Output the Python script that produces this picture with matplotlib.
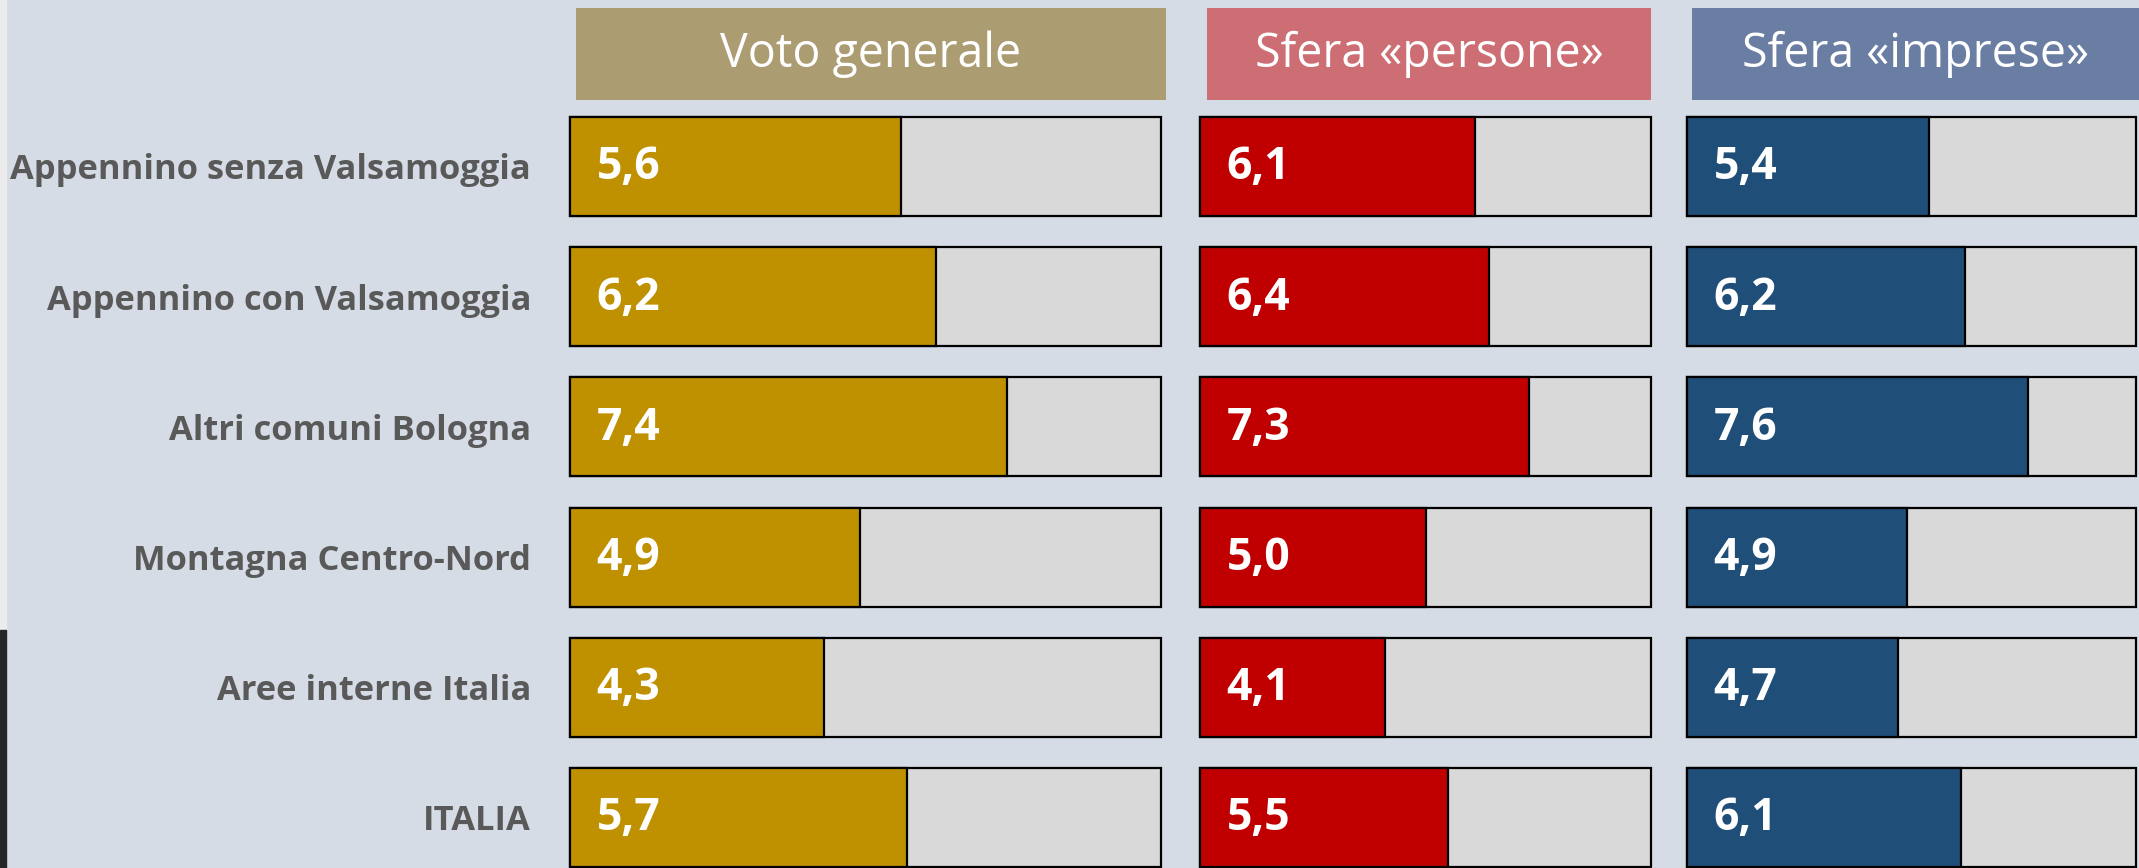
import matplotlib.pyplot as plt
from matplotlib.patches import Rectangle

plt.rcParams["font.family"] = ["Open Sans", "DejaVu Sans"]

# dati
aree = ["Appennino senza Valsamoggia", "Appennino con Valsamoggia", "Altri comuni Bologna",
        "Montagna Centro-Nord", "Aree interne Italia", "ITALIA"]
voto_generale = [5.6, 6.2, 7.4, 4.9, 4.3, 5.7]
sfera_persone = [6.1, 6.4, 7.3, 5.0, 4.1, 5.5]
sfera_imprese = [5.4, 6.2, 7.6, 4.9, 4.7, 6.1]
titoli = ["Voto generale", "Sfera «persone»", "Sfera «imprese»"]
scala_max = 10

colori_barre = ["#BF9000", "#C00000", "#1F4E79"]
colori_titoli = ["#AB9C72", "#CC6E73", "#6A7DA2"]
sfondo = "#D6DCE5"
grigio = "#D9D9D9"

W, H = 2139, 868
fig = plt.figure(figsize=(W / 100, H / 100), dpi=100, facecolor=sfondo)


def box(x0, y0, x1, y1):
    # pixel -> frazione della figura
    return [x0 / W, 1 - y1 / H, (x1 - x0) / W, (y1 - y0) / H]


# striscia sul bordo sinistro (bordo della slide)
fig.patches.append(Rectangle((0, 1 - 630 / H), 6 / W, 630 / H, transform=fig.transFigure,
                             color="#ECECEC", zorder=0))
fig.patches.append(Rectangle((0, 0), 6 / W, 1 - 630 / H, transform=fig.transFigure,
                             color="#262626", zorder=0))

# layout in pixel
pannelli_x = [(570, 1161), (1200, 1651), (1687, 2136)]
titoli_x = [(576, 1166), (1207, 1651), (1692, 2139)]
titolo_y = (8, 100)
riga0_top, passo, alt_barra = 117, 130.2, 99
ax_top = 105

centro0 = riga0_top + alt_barra / 2
ylim = ((H - centro0) / passo, -(centro0 - ax_top) / passo)
y = list(range(len(aree)))

serie = [voto_generale, sfera_persone, sfera_imprese]
for i, (valori, titolo) in enumerate(zip(serie, titoli)):
    x0, x1 = pannelli_x[i]
    ax = fig.add_axes(box(x0, ax_top, x1, H))
    ax.set_facecolor("none")
    ax.barh(y, [scala_max] * len(valori), height=alt_barra / passo, color=grigio,
            edgecolor="black", linewidth=1.6, clip_on=False)
    ax.barh(y, valori, height=alt_barra / passo, color=colori_barre[i],
            edgecolor="black", linewidth=1.6, clip_on=False)
    for yi, v in zip(y, valori):
        ax.annotate(f"{v:.1f}".replace(".", ","), (0, yi), xytext=(19, -1),
                    textcoords="offset points", ha="left", va="center",
                    color="white", fontsize=32, fontweight="bold")
    ax.set_xlim(0, scala_max)
    ax.set_ylim(*ylim)
    ax.set_xticks([])
    for s in ax.spines.values():
        s.set_visible(False)
    if i == 0:
        ax.set_yticks(y)
        ax.set_yticklabels(aree, fontsize=24.8, fontweight="bold", color="#595959")
        ax.tick_params(axis="y", length=0, pad=28)
    else:
        ax.set_yticks([])

    # intestazione
    tx0, tx1 = titoli_x[i]
    axh = fig.add_axes(box(tx0, titolo_y[0], tx1, titolo_y[1]))
    axh.set_facecolor(colori_titoli[i])
    axh.set_xticks([])
    axh.set_yticks([])
    for s in axh.spines.values():
        s.set_visible(False)
    axh.text(0.5, 0.5, titolo, transform=axh.transAxes, ha="center", va="center",
             color="white", fontsize=33.5)

fig.savefig("out.png", dpi=100, facecolor=sfondo)
